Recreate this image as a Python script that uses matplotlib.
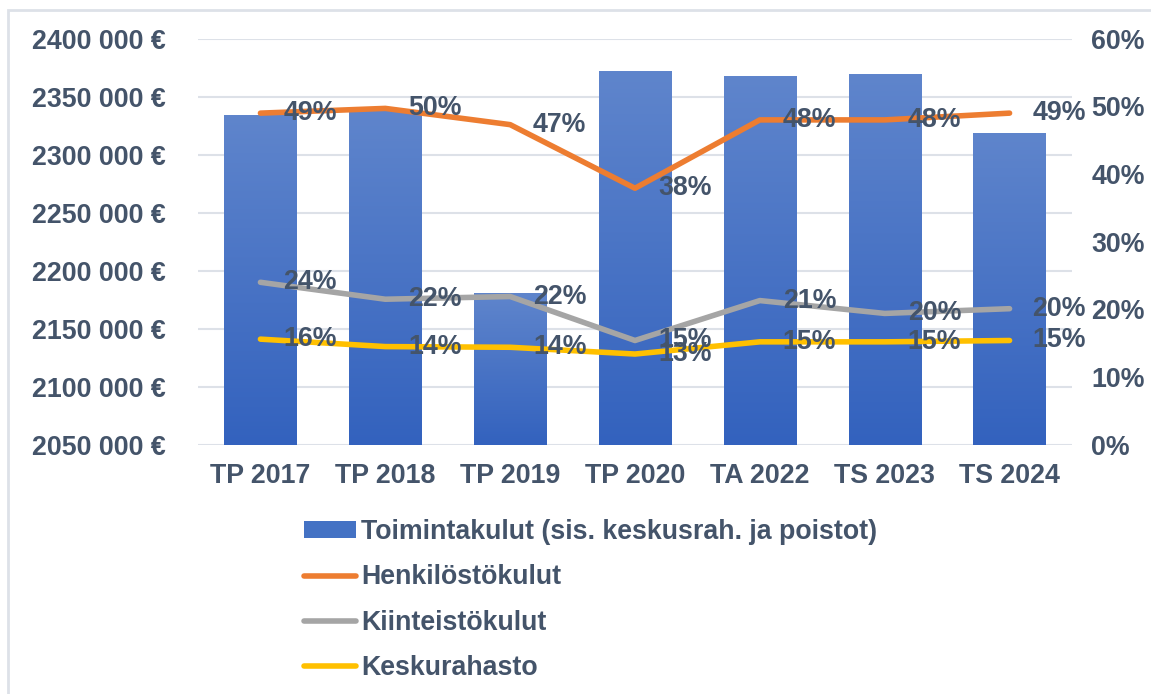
import numpy as np
import matplotlib
matplotlib.use("Agg")
import matplotlib.pyplot as plt
from matplotlib.ticker import FuncFormatter, MultipleLocator
from matplotlib.patches import Rectangle
from matplotlib.lines import Line2D

plt.rcParams['font.family'] = ['Liberation Sans', 'DejaVu Sans']
plt.rcParams['font.weight'] = 'bold'

categories = ["TP 2017", "TP 2018", "TP 2019", "TP 2020", "TA 2022", "TS 2023", "TS 2024"]
toimintakulut = [2334000, 2338500, 2180500, 2372000, 2368000, 2369500, 2319000]
henkilosto = [0.49, 0.497, 0.473, 0.379, 0.48, 0.48, 0.49]
kiinteisto = [0.240, 0.215, 0.219, 0.154, 0.213, 0.194, 0.201]
keskurahasto = [0.156, 0.145, 0.144, 0.134, 0.152, 0.152, 0.154]
henkilosto_lbl = ["49%", "50%", "47%", "38%", "48%", "48%", "49%"]
kiinteisto_lbl = ["24%", "22%", "22%", "15%", "21%", "20%", "20%"]
keskurahasto_lbl = ["16%", "14%", "14%", "13%", "15%", "15%", "15%"]

txt = "#44546A"
grid = "#DDE1E8"
fs = 19.3

fig = plt.figure(figsize=(11.51, 6.94), dpi=100)
fig.patches.append(Rectangle((8 / 1151, -0.1), 1.2, 1 - 9.5 / 694 + 0.1,
                             transform=fig.transFigure, fill=False,
                             edgecolor=grid, linewidth=2))
ax = fig.add_axes([198 / 1151, 1 - 444.7 / 694, 874 / 1151, 406 / 694])
x = np.arange(len(categories))

ymin, ymax = 2050000, 2400000
bars = ax.bar(x, toimintakulut, width=0.58, color="#4472C4", zorder=2)
# vertical gradient like Excel fill
grad = np.linspace(0, 1, 256).reshape(-1, 1)
cmap = matplotlib.colors.LinearSegmentedColormap.from_list("g", ["#3362BE", "#5F85CC"])
for b in bars:
    x0 = b.get_x()
    im = ax.imshow(grad, cmap=cmap, aspect="auto", origin="lower",
                   extent=[x0, x0 + b.get_width(), ymin, b.get_height()], zorder=2.1)
    im.set_clip_path(b)

ax.set_xlim(-0.5, len(categories) - 0.5)
ax.set_ylim(ymin, ymax)
ax.yaxis.set_major_locator(MultipleLocator(50000))
ax.yaxis.set_major_formatter(FuncFormatter(lambda v, p: f"{v / 1000:.0f} 000 €"))
ax.grid(axis="y", color=grid, linewidth=1.5, zorder=0)
ax.set_axisbelow(True)
for s in ax.spines.values():
    s.set_visible(False)
ax.set_xticks(x)
ax.set_xticklabels(categories)
ax.tick_params(axis="both", length=0, labelsize=fs, labelcolor=txt)
ax.tick_params(axis="y", pad=23)
ax.tick_params(axis="x", pad=13)

ax2 = ax.twinx()
ax2.set_ylim(0, 0.6)
ax2.yaxis.set_major_locator(MultipleLocator(0.1))
ax2.yaxis.set_major_formatter(FuncFormatter(lambda v, p: f"{v * 100:.0f}%"))
ax2.tick_params(axis="y", length=0, labelsize=fs, labelcolor=txt, pad=14)
for s in ax2.spines.values():
    s.set_visible(False)

series = [
    (henkilosto, henkilosto_lbl, "#ED7D31"),
    (kiinteisto, kiinteisto_lbl, "#A5A5A5"),
    (keskurahasto, keskurahasto_lbl, "#FFC000"),
]
for vals, lbls, col in series:
    ax2.plot(x, vals, color=col, linewidth=4, solid_capstyle="round",
             solid_joinstyle="round", zorder=3)
for vals, lbls, col in series:
    for xi, v, l in zip(x, vals, lbls):
        ax2.annotate(l, (xi, v), xytext=(16.5, 0), textcoords="offset points",
                     ha="left", va="center", fontsize=fs, color=txt,
                     fontweight="bold", zorder=5)

handles = [
    Rectangle((0, 0), 1, 1, facecolor="#4472C4"),
    Line2D([], [], color="#ED7D31", linewidth=4, solid_capstyle="round"),
    Line2D([], [], color="#A5A5A5", linewidth=4, solid_capstyle="round"),
    Line2D([], [], color="#FFC000", linewidth=4, solid_capstyle="round"),
]
labels = ["Toimintakulut (sis. keskusrah. ja poistot)", "Henkilöstökulut",
          "Kiinteistökulut", "Keskurahasto"]
leg = fig.legend(handles, labels, loc="upper left",
                 bbox_to_anchor=(304 / 1151, 1 - 519 / 694),
                 frameon=False, fontsize=fs, labelcolor=txt,
                 handlelength=1.95, handleheight=0.55, handletextpad=0.19,
                 labelspacing=0.72, borderpad=0, borderaxespad=0)

fig.savefig("out.png", dpi=100)
